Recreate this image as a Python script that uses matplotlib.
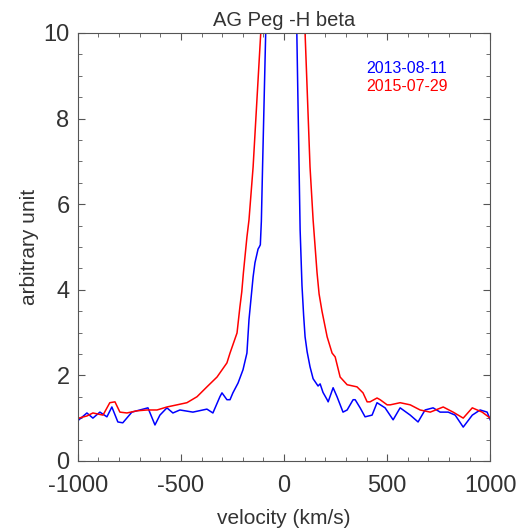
import numpy as np
import matplotlib
matplotlib.use('Agg')
import matplotlib.pyplot as plt
from matplotlib.ticker import MultipleLocator

plt.rcParams['font.family'] = ['Liberation Sans', 'DejaVu Sans']
plt.rcParams['axes.unicode_minus'] = False

# 2013-08-11 (blue)
v_2013 = [-995, -956, -927, -893, -859, -835, -806, -782, -738, -699, -660, -626, -602,
          -568, -539, -505, -442, -374, -345, -311, -301, -277, -262, -248, -223, -199,
          -180, -170, -160, -150, -141, -126, -120, -115, -110, -104, -89, -40, 0, 30,
          62, 78, 87, 95, 102, 112, 126, 141, 165, 175, 189, 209, 214, 238, 257, 286,
          306, 335, 345, 369, 393, 427, 451, 490, 529, 563, 612, 650, 684, 723, 757,
          796, 830, 869, 913, 951, 985, 1000]
f_2013 = [0.96, 1.12, 1.0, 1.14, 1.03, 1.26, 0.91, 0.89, 1.14, 1.19, 1.24, 0.84, 1.07,
          1.24, 1.12, 1.19, 1.14, 1.21, 1.12, 1.5, 1.59, 1.43, 1.43, 1.59, 1.82, 2.13,
          2.52, 3.3, 3.8, 4.3, 4.63, 4.95, 5.0, 5.05, 5.6, 6.9, 10.0, 18.0, 22.0, 18.0,
          10.0, 5.4, 4.1, 3.4, 2.9, 2.55, 2.2, 1.92, 1.75, 1.8, 1.6, 1.43, 1.38, 1.71,
          1.5, 1.14, 1.19, 1.43, 1.43, 1.24, 1.03, 1.07, 1.36, 1.24, 0.96, 1.24, 1.07,
          0.91, 1.19, 1.24, 1.14, 1.14, 1.07, 0.79, 1.07, 1.19, 1.14, 0.96]

# 2015-07-29 (red)
v_2015 = [-995, -956, -927, -878, -845, -820, -796, -762, -714, -665, -616, -568, -519,
          -471, -422, -374, -325, -277, -262, -228, -214, -205, -197, -180, -170, -150,
          -113, -40, 0, 40, 102, 126, 141, 160, 170, 184, 209, 233, 248, 272, 306, 354,
          383, 403, 417, 451, 466, 500, 515, 563, 612, 660, 709, 772, 820, 869, 913,
          961, 1000]
f_2015 = [1.0, 1.05, 1.12, 1.07, 1.36, 1.38, 1.14, 1.12, 1.17, 1.19, 1.19, 1.26, 1.31,
          1.36, 1.5, 1.73, 1.96, 2.29, 2.52, 2.99, 3.6, 3.95, 4.4, 5.23, 5.63, 6.87,
          10.0, 20.0, 24.0, 20.0, 10.0, 6.87, 5.63, 4.4, 3.9, 3.5, 2.9, 2.52, 2.43, 1.96,
          1.78, 1.73, 1.59, 1.38, 1.38, 1.47, 1.43, 1.31, 1.31, 1.36, 1.31, 1.19, 1.14,
          1.26, 1.14, 1.0, 1.24, 1.14, 1.0]

labels = ['2013-08-11', '2015-07-29']
cols = ['#0000ff', '#ff0000']
txtcol = '#333333'

fig = plt.figure(figsize=(5.26, 5.31), dpi=100)
ax = fig.add_axes([0.148, 0.132, 0.784, 0.806])

ax.plot(v_2013, f_2013, color=cols[0], lw=1.1)
ax.plot(v_2015, f_2015, color=cols[1], lw=1.1)

ax.set_xlim(-1000, 1000)
ax.set_ylim(0, 10)
ax.xaxis.set_major_locator(MultipleLocator(500))
ax.xaxis.set_minor_locator(MultipleLocator(100))
ax.yaxis.set_major_locator(MultipleLocator(2))
ax.yaxis.set_minor_locator(MultipleLocator(0.5))
ax.tick_params(which='both', direction='in', top=True, right=True, colors='#555555',
               labelcolor=txtcol, labelsize=17)
ax.tick_params(axis='x', which='major', pad=10.5)
ax.tick_params(axis='y', which='major', pad=6)
ax.tick_params(which='major', length=5)
ax.tick_params(which='minor', length=3)
for s in ax.spines.values():
    s.set_color('#555555')

ax.set_title('AG Peg -H beta', fontsize=14.5, color=txtcol, pad=5)
ax.set_xlabel('velocity (km/s)', fontsize=15, color=txtcol, labelpad=8)
ax.set_ylabel('arbitrary unit', fontsize=15, color=txtcol, labelpad=3)

ax.text(0.70, 0.918, labels[0], transform=ax.transAxes, color=cols[0], fontsize=11.5, va='center')
ax.text(0.70, 0.874, labels[1], transform=ax.transAxes, color=cols[1], fontsize=11.5, va='center')

plt.savefig('out.png', dpi=100)
